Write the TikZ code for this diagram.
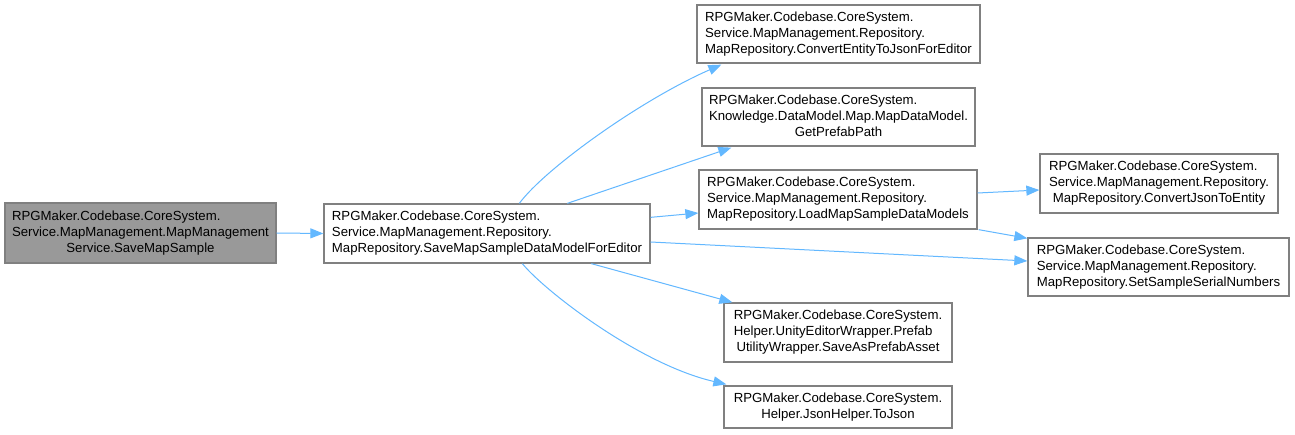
\documentclass[tikz,border=0pt]{standalone}
\usepackage{fontspec}
\setmainfont{Liberation Sans}
\usetikzlibrary{arrows.meta,calc}
\definecolor{edgeblue}{HTML}{63B8FF}
\definecolor{boxgray}{HTML}{999999}
\definecolor{bordergray}{HTML}{808080}
\newcommand\threelines[3]{\begin{tabular}{@{}l@{}}#1\\#2\\\multicolumn{1}{@{}c@{}}{#3}\end{tabular}}
\newcommand\twolines[2]{\begin{tabular}{@{}l@{}}#1\\\multicolumn{1}{@{}c@{}}{#2}\end{tabular}}
\begin{document}
\begin{tikzpicture}[x=1pt,y=-1pt,
  fn/.style={draw=bordergray,line width=1.3pt,fill=white,rectangle,inner sep=0pt,
    font=\fontsize{13.2}{16}\selectfont},
  call/.style={draw=edgeblue,line width=1pt,-{Triangle[length=13pt,width=10pt]}}]
\fill[white] (0,0) rectangle (1295,435);
\useasboundingbox (0,0) rectangle (1295,435);

\node[fn,fill=boxgray,minimum width=271pt,minimum height=60pt] (A) at (140.5,233)
  {\threelines{RPGMaker.Codebase.CoreSystem.}{Service.MapManagement.MapManagement}{Service.SaveMapSample}};
\node[fn,minimum width=326pt,minimum height=59pt] (B) at (487,233.5)
  {\threelines{RPGMaker.Codebase.CoreSystem.}{Service.MapManagement.Repository.}{MapRepository.SaveMapSampleDataModelForEditor}};
\node[fn,minimum width=283pt,minimum height=58pt] (C) at (838.5,34)
  {\threelines{RPGMaker.Codebase.CoreSystem.}{Service.MapManagement.Repository.}{MapRepository.ConvertEntityToJsonForEditor}};
\node[fn,minimum width=273pt,minimum height=58pt] (D) at (838.5,117)
  {\threelines{RPGMaker.Codebase.CoreSystem.}{Knowledge.DataModel.Map.MapDataModel.}{GetPrefabPath}};
\node[fn,minimum width=278pt,minimum height=59pt] (E) at (838,199.5)
  {\threelines{RPGMaker.Codebase.CoreSystem.}{Service.MapManagement.Repository.}{MapRepository.LoadMapSampleDataModels}};
\node[fn,minimum width=238pt,minimum height=59pt] (F) at (1159,183.5)
  {\threelines{RPGMaker.Codebase.CoreSystem.}{Service.MapManagement.Repository.}{MapRepository.ConvertJsonToEntity}};
\node[fn,minimum width=261pt,minimum height=58pt] (G) at (1158.5,267)
  {\threelines{RPGMaker.Codebase.CoreSystem.}{Service.MapManagement.Repository.}{MapRepository.SetSampleSerialNumbers}};
\node[fn,minimum width=228pt,minimum height=59pt] (H) at (838,332.5)
  {\threelines{RPGMaker.Codebase.CoreSystem.}{Helper.UnityEditorWrapper.Prefab}{UtilityWrapper.SaveAsPrefabAsset}};
\node[fn,minimum width=228pt,minimum height=42pt] (I) at (838,407)
  {\twolines{RPGMaker.Codebase.CoreSystem.}{Helper.JsonHelper.ToJson}};

\draw[call] (A.east) -- (B.west);
\draw[call] ($(B.north west)+(196,0)$) .. controls +(25,-34) and +(-82,36) .. ($(C.south west)+(25,1)$);
\draw[call] ($(B.north west)+(244,0)$) -- ($(D.south west)+(30,1)$);
\draw[call] ($(B.north east)+(0,14)$) -- ($(E.west)+(0,13.5)$);
\draw[call] ($(B.east)+(0,8.5)$) -- ($(G.west)+(0,-6)$);
\draw[call] ($(B.south west)+(268,0)$) -- ($(H.north west)+(9,0)$);
\draw[call] ($(B.south west)+(199,0)$) .. controls +(22,27) and +(-87,-20) .. ($(I.north west)+(3,-1)$);
\draw[call] ($(E.east)+(0,-6.5)$) -- ($(F.west)+(0,6.5)$);
\draw[call] ($(E.south east)+(1,0)$) -- ($(G.north west)+(0,1)$);
\end{tikzpicture}
\end{document}
